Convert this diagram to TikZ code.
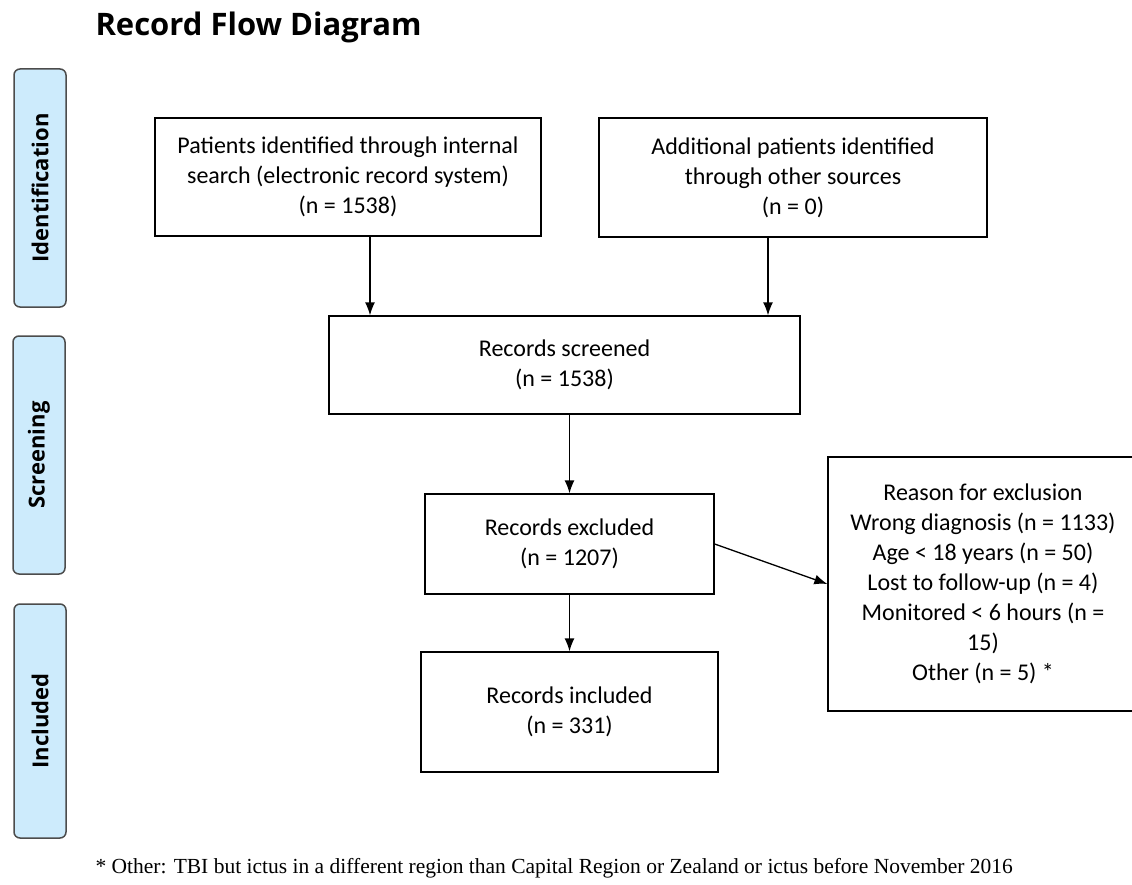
\documentclass[tikz,border=0pt]{standalone}
\usepackage{fontspec}
\usetikzlibrary{arrows.meta}
\setmainfont{Carlito}
\newfontfamily\headfont{Open Sans}
\newfontfamily\notefont{Liberation Serif}
\definecolor{phaseblue}{RGB}{205,235,252}

\tikzset{
    box/.style={draw, line width=1.3pt, align=center, inner sep=0pt,
        font=\fontsize{24}{30}\selectfont},
    phase/.style={draw=black!70, line width=1.5pt, fill=phaseblue,
        rounded corners=6pt, rotate=90, minimum height=52pt, inner sep=0pt,
        font=\headfont\bfseries\fontsize{22}{24}\selectfont}
}

\begin{document}
\begin{tikzpicture}[>={Latex[length=13pt, width=10pt]}, x=1pt, y=-1pt]
    \useasboundingbox (0, 0) rectangle (1132, 885);

    \node[anchor=west, font=\headfont\bfseries\fontsize{31}{34}\selectfont] (title) at (92, 27){Record Flow Diagram};

    % phases on the left
    \node[phase, minimum width=238pt] (ident) at (40, 188){Identification};
    \node[phase, minimum width=238pt] (screen) at (39, 455){Screening};
    \node[phase, minimum width=234pt] (incl) at (40, 721){Included};

    \node[box, minimum width=386pt, minimum height=118pt] (internal) at (348, 177)
        {Patients identified through internal\\search (electronic record system)\\(n = 1538)};
    \node[box, minimum width=388pt, minimum height=119pt] (other) at (793, 177.5)
        {Additional patients identified\\through other sources\\(n = 0)};
    \node[box, minimum width=471pt, minimum height=98pt] (screened) at (564.5, 365)
        {Records screened\\(n = 1538)};
    \node[box, minimum width=289pt, minimum height=100pt] (excluded) at (569.5, 544)
        {Records excluded\\(n = 1207)};
    \node[box, minimum width=310pt, minimum height=254pt] (reason) at (983, 584)
        {Reason for exclusion\\Wrong diagnosis (n = 1133)\\Age < 18 years (n = 50)\\Lost to follow-up (n = 4)\\Monitored < 6 hours (n =\\15)\\Other (n = 5) *};
    \node[box, minimum width=297pt, minimum height=120pt] (included) at (569.5, 712)
        {Records included\\(n = 331)};

    \draw[->, line width=1.3pt] ([xshift=22pt]internal.south) -- ([xshift=22pt]internal.south |- screened.north);
    \draw[->, line width=1.3pt] ([xshift=-25pt]other.south) -- ([xshift=-25pt]other.south |- screened.north);
    \draw[->, line width=1.3pt] (excluded.north |- screened.south) -- (excluded.north);
    \draw[->, line width=1.3pt] (excluded.east) -- (reason.west);
    \draw[->, line width=1.3pt] (excluded.south) -- (included.north);

    \node[anchor=west, font=\notefont\fontsize{21.5}{24}\selectfont] (note) at (92, 868)
        {* Other: TBI but ictus in a different region than Capital Region or Zealand or ictus before November 2016};
\end{tikzpicture}
\end{document}
